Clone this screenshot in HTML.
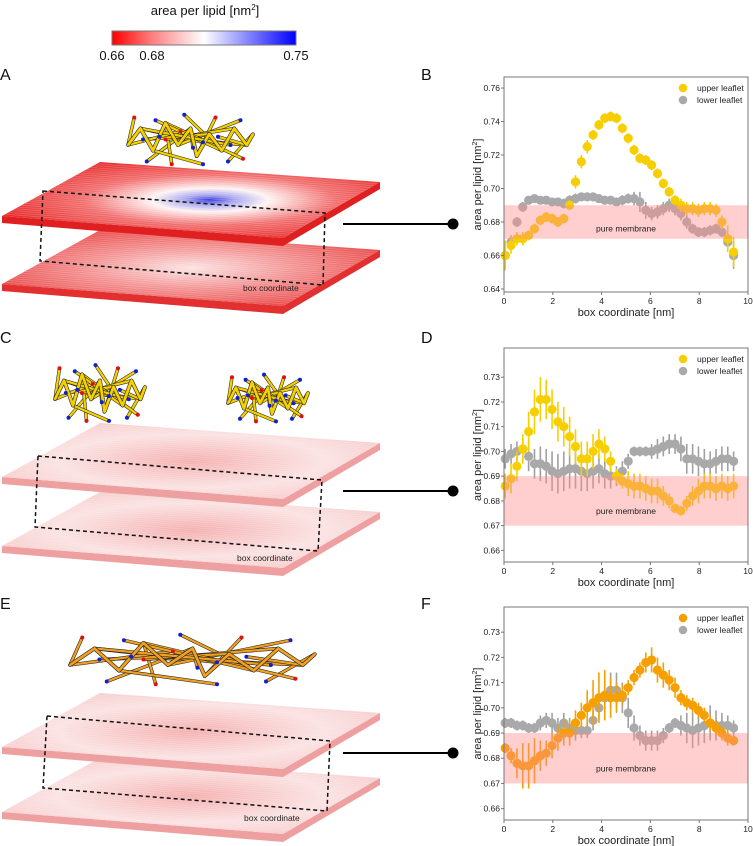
<!DOCTYPE html>
<html><head><meta charset="utf-8">
<style>
html,body{margin:0;padding:0;background:#fff;}
body{width:753px;height:846px;overflow:hidden;font-family:"Liberation Sans",sans-serif;}
svg{position:absolute;left:0;top:0;}
</style></head>
<body>
<svg id="fig" width="753" height="846" viewBox="0 0 753 846" xmlns="http://www.w3.org/2000/svg">
<defs>
<linearGradient id="cbar" x1="0" x2="1" y1="0" y2="0">
<stop offset="0" stop-color="#ff0000"/><stop offset="0.22" stop-color="#ff8080"/><stop offset="0.5" stop-color="#ffffff"/><stop offset="1" stop-color="#0000ff"/>
</linearGradient>
<radialGradient id="memA" cx="0.55" cy="0.5" r="0.55">
<stop offset="0" stop-color="#3a3ae0"/><stop offset="0.12" stop-color="#a8a8f0"/><stop offset="0.28" stop-color="#fff4f4"/><stop offset="0.6" stop-color="#f27070"/><stop offset="1" stop-color="#e83232"/>
</radialGradient>
<radialGradient id="memA2" cx="0.5" cy="0.5" r="0.6">
<stop offset="0" stop-color="#fbe4e4"/><stop offset="0.45" stop-color="#f49494"/><stop offset="1" stop-color="#e84040"/>
</radialGradient>
<radialGradient id="memP" cx="0.5" cy="0.5" r="0.7">
<stop offset="0" stop-color="#f5b0b0"/><stop offset="0.5" stop-color="#fbe2e2"/><stop offset="1" stop-color="#f6c0c0"/>
</radialGradient>
</defs>

<g>
<text x="205" y="15" font-size="13" text-anchor="middle" fill="#111">area per lipid [nm<tspan font-size="8" dy="-5">2</tspan><tspan dy="5">]</tspan></text>
<rect x="112" y="31" width="184" height="14" fill="url(#cbar)" stroke="#777" stroke-width="1"/>
<text x="112" y="60" font-size="13" text-anchor="middle" fill="#111">0.66</text>
<text x="152" y="60" font-size="13" text-anchor="middle" fill="#111">0.68</text>
<text x="296" y="60" font-size="13" text-anchor="middle" fill="#111">0.75</text>
</g>

<g font-size="16" fill="#111">
<text x="0" y="80">A</text>
<text x="421" y="80">B</text>
<text x="0" y="343">C</text>
<text x="421" y="343">D</text>
<text x="0" y="609">E</text>
<text x="421" y="609">F</text>
</g>

<g id="membranes"></g>
<g id="charts"></g>
</svg>

<script>
// ---------- chart data ----------
const xStart = 0.05;
const xStep = 0.24;
const xTicks = [0, 2, 4, 6, 8, 10];
const ticksB = [0.64, 0.66, 0.68, 0.70, 0.72, 0.74, 0.76];
const ticksD = [0.66, 0.67, 0.68, 0.69, 0.70, 0.71, 0.72, 0.73];
const ticksF = [0.66, 0.67, 0.68, 0.69, 0.70, 0.71, 0.72, 0.73];
const seriesNames = ["upper leaflet", "lower leaflet"];

const upperB = [0.660,0.666,0.670,0.670,0.672,0.676,0.681,0.683,0.682,0.680,0.682,0.690,0.704,0.716,0.725,0.732,0.738,0.742,0.743,0.742,0.736,0.730,0.723,0.718,0.717,0.714,0.709,0.703,0.698,0.693,0.690,0.688,0.688,0.687,0.688,0.688,0.687,0.680,0.670,0.662];
const upperErrB = [0.009,0.005,0.004,0.004,0.003,0.003,0.003,0.003,0.003,0.003,0.003,0.003,0.004,0.004,0.004,0.003,0.003,0.003,0.003,0.003,0.003,0.003,0.003,0.003,0.003,0.003,0.003,0.003,0.003,0.003,0.004,0.004,0.004,0.004,0.004,0.004,0.004,0.004,0.008,0.009];
const lowerB = [0.660,0.668,0.680,0.689,0.693,0.694,0.693,0.693,0.692,0.692,0.691,0.693,0.694,0.695,0.695,0.695,0.694,0.693,0.693,0.692,0.693,0.694,0.694,0.692,0.687,0.685,0.686,0.688,0.690,0.688,0.685,0.680,0.676,0.674,0.674,0.675,0.676,0.674,0.668,0.660];
const lowerErrB = [0.008,0.004,0.003,0.003,0.002,0.002,0.002,0.002,0.002,0.002,0.003,0.003,0.003,0.002,0.002,0.002,0.002,0.002,0.002,0.002,0.003,0.003,0.004,0.006,0.005,0.004,0.004,0.004,0.004,0.004,0.004,0.004,0.003,0.003,0.003,0.003,0.003,0.003,0.005,0.008];

const upperD = [0.686,0.689,0.694,0.701,0.708,0.716,0.721,0.721,0.717,0.712,0.710,0.706,0.702,0.697,0.697,0.700,0.703,0.701,0.696,0.690,0.688,0.687,0.686,0.686,0.685,0.684,0.684,0.682,0.680,0.677,0.676,0.679,0.682,0.684,0.686,0.686,0.685,0.686,0.685,0.686];
const upperErrD = [0.005,0.006,0.006,0.006,0.008,0.009,0.009,0.008,0.008,0.008,0.008,0.008,0.007,0.007,0.007,0.007,0.006,0.005,0.004,0.003,0.003,0.005,0.005,0.005,0.005,0.005,0.005,0.004,0.003,0.002,0.002,0.003,0.004,0.005,0.005,0.005,0.005,0.005,0.005,0.005];
const lowerD = [0.697,0.699,0.700,0.701,0.698,0.695,0.695,0.694,0.692,0.691,0.692,0.693,0.693,0.692,0.691,0.692,0.693,0.691,0.690,0.690,0.692,0.696,0.700,0.700,0.700,0.700,0.701,0.702,0.703,0.703,0.701,0.697,0.697,0.696,0.695,0.695,0.696,0.697,0.697,0.696];
const lowerErrD = [0.004,0.004,0.004,0.004,0.006,0.006,0.007,0.007,0.008,0.008,0.008,0.008,0.008,0.008,0.007,0.007,0.006,0.006,0.005,0.004,0.004,0.003,0.002,0.002,0.002,0.003,0.004,0.004,0.004,0.004,0.005,0.006,0.006,0.006,0.006,0.005,0.005,0.005,0.005,0.004];

const upperF = [0.684,0.681,0.678,0.677,0.677,0.679,0.681,0.682,0.685,0.688,0.690,0.690,0.694,0.697,0.700,0.702,0.704,0.705,0.704,0.704,0.705,0.708,0.712,0.715,0.718,0.719,0.715,0.713,0.711,0.708,0.704,0.702,0.701,0.699,0.697,0.694,0.692,0.690,0.688,0.687];
const upperErrF = [0.002,0.003,0.006,0.009,0.009,0.009,0.006,0.005,0.005,0.005,0.005,0.005,0.005,0.005,0.007,0.009,0.010,0.010,0.008,0.006,0.004,0.003,0.003,0.003,0.004,0.005,0.005,0.005,0.004,0.004,0.003,0.003,0.003,0.003,0.003,0.003,0.003,0.003,0.003,0.002];
const lowerF = [0.694,0.694,0.693,0.693,0.692,0.692,0.694,0.695,0.694,0.692,0.694,0.692,0.691,0.691,0.691,0.695,0.700,0.704,0.707,0.707,0.704,0.698,0.692,0.689,0.687,0.687,0.687,0.689,0.692,0.694,0.693,0.692,0.691,0.692,0.693,0.694,0.693,0.693,0.693,0.692];
const lowerErrF = [0.002,0.002,0.002,0.002,0.002,0.002,0.003,0.003,0.004,0.004,0.004,0.004,0.004,0.003,0.003,0.004,0.005,0.006,0.007,0.007,0.006,0.006,0.005,0.004,0.004,0.004,0.004,0.003,0.002,0.002,0.004,0.006,0.007,0.007,0.007,0.007,0.006,0.005,0.004,0.003];

const NS = "http://www.w3.org/2000/svg";
function mk(tag, attrs, parent) {
  const e = document.createElementNS(NS, tag);
  for (const k in attrs) e.setAttribute(k, attrs[k]);
  parent.appendChild(e);
  return e;
}

function drawChart(id, box, yMin, yMax, yTicks, up, upErr, lo, loErr, upColor) {
  const root = document.getElementById("charts");
  const g = mk("g", {}, root);
  
  
  const xs = v => box.x0 + (v / 10) * (box.x1 - box.x0);
  const ys = v => box.y1 - (v - yMin) / (yMax - yMin) * (box.y1 - box.y0);

  const drawSeries = (vals, errs, color, errColor, name) => {
    const sg = mk("g", {}, g);
    
    
    vals.forEach((v, i) => {
      const x = xs(xStart + i * xStep);
      const eb = mk("line", {x1: x, x2: x, y1: ys(v - errs[i]), y2: ys(v + errs[i]), stroke: errColor, "stroke-width": 1.6}, sg);
      
      
    });
    vals.forEach((v, i) => {
      const x = xs(xStart + i * xStep);
      const c = mk("circle", {cx: x, cy: ys(v), r: 4.6, fill: color}, sg);
      
      
    });
  };
  drawSeries(lo, loErr, "#a9a9a9", "#a0a0a0", "series-lower-leaflet");
  drawSeries(up, upErr, upColor, upColor, "series-upper-leaflet");

  const band = mk("rect", {x: box.x0, y: ys(0.69), width: box.x1 - box.x0, height: ys(0.67) - ys(0.69), fill: "#ff8a8a", "fill-opacity": 0.42}, g);
  
  
  const bt = mk("text", {x: (box.x0 + box.x1) / 2, y: ys(0.676) + 3, "font-size": 8.5, "text-anchor": "middle", fill: "#222"}, g);
  bt.textContent = "pure membrane";
  
  

  const fr = mk("rect", {x: box.x0, y: box.y0, width: box.x1 - box.x0, height: box.y1 - box.y0, fill: "none", stroke: "#777", "stroke-width": 1}, g);
  
  

  const xa = mk("g", {}, g);
  
  
  xTicks.forEach(t => {
    const x = xs(t);
    mk("line", {x1: x, x2: x, y1: box.y1, y2: box.y1 + 3, stroke: "#777"}, xa);
    const tx = mk("text", {x: x, y: box.y1 + 12, "font-size": 8.5, "text-anchor": "middle", fill: "#222"}, xa);
    tx.textContent = t;
    
    
  });
  const xl = mk("text", {x: (box.x0 + box.x1) / 2, y: box.y1 + 24, "font-size": 11, "text-anchor": "middle", fill: "#222"}, g);
  xl.textContent = "box coordinate [nm]";
  
  

  const ya = mk("g", {}, g);
  
  
  yTicks.forEach(t => {
    const y = ys(t);
    mk("line", {x1: box.x0 - 3, x2: box.x0, y1: y, y2: y, stroke: "#777"}, ya);
    const tx = mk("text", {x: box.x0 - 4, y: y + 3, "font-size": 8.5, "text-anchor": "end", fill: "#222"}, ya);
    tx.textContent = t.toFixed(2);
    
    
  });
  const cy = (box.y0 + box.y1) / 2;
  const yl = mk("text", {x: 0, y: 0, "font-size": 11, "text-anchor": "middle", fill: "#222", transform: `translate(481,${cy}) rotate(-90)`}, g);
  yl.innerHTML = 'area per lipid [nm<tspan font-size="7" dy="-4">2</tspan><tspan dy="4">]</tspan>';
  
  

  const lg = mk("g", {}, g);
  
  
  [upColor, "#a9a9a9"].forEach((c, i) => {
    const y = box.y0 + 11 + i * 12;
    mk("circle", {cx: 683, cy: y, r: 4.3, fill: c}, lg);
    const t = mk("text", {x: 697, y: y + 3, "font-size": 8.5, fill: "#222"}, lg);
    t.textContent = seriesNames[i];
    
    
  });
}

drawChart("b", {x0: 504, x1: 748, y0: 77, y1: 292}, 0.6382, 0.7666, ticksB, upperB, upperErrB, lowerB, lowerErrB, "#f7cf00");
drawChart("d", {x0: 504, x1: 748, y0: 348, y1: 562}, 0.6553, 0.7418, ticksD, upperD, upperErrD, lowerD, lowerErrD, "#f7cf00");
drawChart("f", {x0: 504, x1: 748, y0: 607, y1: 820}, 0.6555, 0.7400, ticksF, upperF, upperErrF, lowerF, lowerErrF, "#f5a000");

// ---------- membranes (illustration) ----------
const mem = document.getElementById("membranes");
function slab(dy, fill, edge, name) {
  const g = mk("g", {}, mem);
  
  
  mk("polygon", {points: `2,${216+dy} 283,${238+dy} 380,${182+dy} 380,${189+dy} 283,${246+dy} 2,${223+dy}`, fill: edge}, g);
  mk("polygon", {points: `100,${162+dy} 380,${182+dy} 283,${238+dy} 2,${216+dy}`, fill: fill}, g);
  for (let i = 1; i < 30; i++) {
    const t = i / 30;
    const x1 = 100 + (2 - 100) * t, y1 = 162 + (216 - 162) * t;
    const x2 = 380 + (283 - 380) * t, y2 = 182 + (238 - 182) * t;
    mk("line", {x1: x1, y1: y1 + dy, x2: x2, y2: y2 + dy, stroke: "#ffffff", "stroke-opacity": 0.25, "stroke-width": 0.6}, g);
  }
}
function dashedBox(p, name) {
  const g = mk("path", {d: `M${p[0]} L${p[1]} L${p[3]} L${p[2]} Z`, fill: "none", stroke: "#111", "stroke-width": 1.5, "stroke-dasharray": "4,3"}, mem);
  
  
}
function connector(y, name) {
  const g = mk("g", {}, mem);
  
  
  mk("line", {x1: 343, x2: 453, y1: y, y2: y, stroke: "#000", "stroke-width": 2}, g);
  mk("circle", {cx: 453, cy: y, r: 5.5, fill: "#000"}, g);
}
function boxLabel(x, y, name) {
  const t = mk("text", {x: x, y: y, "font-size": 8.5, fill: "#222"}, mem);
  t.textContent = "box coordinate";
  
  
}
function molecule(cx, cy, w, h, color, name) {
  const g = mk("g", {}, mem);
  
  
  const pts = [[0,0.6],[0.1,0.3],[0.2,0.7],[0.3,0.2],[0.4,0.6],[0.5,0.3],[0.55,0.8],[0.65,0.4],[0.75,0.7],[0.85,0.3],[0.95,0.6],[1,0.4]];
  let d = "";
  pts.forEach((p, i) => { d += (i ? "L" : "M") + (cx + p[0]*w) + "," + (cy + p[1]*h) + " "; });
  const pts2 = [[0.05,0.1],[0.15,0.9],[0.25,0.45],[0.35,0.95],[0.45,0.05],[0.6,0.55],[0.7,0.1],[0.8,0.9],[0.9,0.15],[0.3,0.5],[0.6,0.95],[0.12,0.5],[0.42,0.35],[0.52,0.65],[0.72,0.45],[0.92,0.85],[0.22,0.15],[0.82,0.6]];
  pts2.forEach((p, i) => {
    const q = pts[(i * 5) % pts.length];
    mk("line", {x1: cx + q[0]*w, y1: cy + q[1]*h, x2: cx + p[0]*w, y2: cy + p[1]*h, stroke: "#222", "stroke-width": 3.4, "stroke-linecap": "round"}, g);
    mk("line", {x1: cx + q[0]*w, y1: cy + q[1]*h, x2: cx + p[0]*w, y2: cy + p[1]*h, stroke: color, "stroke-width": 2.3, "stroke-linecap": "round"}, g);
  });
  mk("path", {d: d, fill: "none", stroke: "#222", "stroke-width": 4, "stroke-linejoin": "round"}, g);
  mk("path", {d: d, fill: "none", stroke: color, "stroke-width": 2.8, "stroke-linejoin": "round"}, g);
  pts2.forEach((p, i) => {
    mk("circle", {cx: cx + p[0]*w, cy: cy + p[1]*h, r: 2, fill: i % 3 ? "#1020d0" : "#e01010"}, g);
  });
}

slab(68, "url(#memA2)", "#e23030", "membrane-a-lower");
slab(0, "url(#memA)", "#e02020", "membrane-a-upper");
dashedBox(["43,191", "325,213", "40,261", "323,285"], "box-outline-a");
boxLabel(243, 291, "box-coordinate-label-a");
connector(224, "connector-a-b");
molecule(128, 112, 125, 55, "#f5d000", "peptide-a");

slab(330, "url(#memP)", "#eea0a0", "membrane-c-lower");
slab(261, "url(#memP)", "#eea0a0", "membrane-c-upper");
dashedBox(["38,456", "322,480", "35,527", "318,551"], "box-outline-c");
boxLabel(237, 561, "box-coordinate-label-c");
connector(491, "connector-c-d");
molecule(55, 362, 90, 62, "#f5d000", "peptide-c-left");
molecule(228, 372, 80, 52, "#f5d000", "peptide-c-right");

slab(596, "url(#memP)", "#eea0a0", "membrane-e-lower");
slab(531, "url(#memP)", "#eea0a0", "membrane-e-upper");
dashedBox(["47,716", "330,741", "43,788", "327,811"], "box-outline-e");
boxLabel(244, 821, "box-coordinate-label-e");
connector(753, "connector-e-f");
molecule(70, 632, 245, 55, "#f0a020", "peptide-e");
</script>
</body></html>
